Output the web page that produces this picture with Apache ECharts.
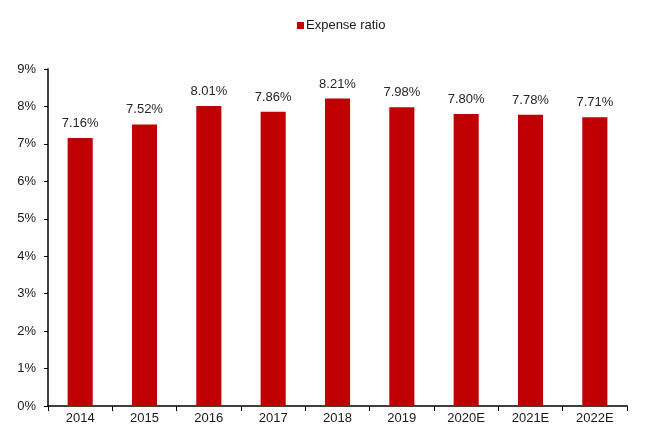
<!DOCTYPE html>
<html><head><meta charset="utf-8">
<script src="https://cdn.jsdelivr.net/npm/echarts@6/dist/echarts.min.js"></script>
<style>html,body{margin:0;padding:0;background:#fff}#c{width:672px;height:425px}</style>
</head><body><div id="c"></div>
<script>
var categories = ["2014","2015","2016","2017","2018","2019","2020E","2021E","2022E"];
var expenseRatio = [7.16,7.52,8.01,7.86,8.21,7.98,7.80,7.78,7.71];
var seriesName = "Expense ratio";
var chart = echarts.init(document.getElementById('c'));
var font = '"Liberation Sans", Arial, sans-serif';
chart.setOption({
  animation:false,
  legend:{top:19,left:297,itemWidth:7,itemHeight:7,itemGap:5,icon:'rect',padding:0,
    textStyle:{fontFamily:font,fontSize:13,color:'#1a1a1a',padding:[0,0,0,-3]},data:[seriesName]},
  grid:{left:48,right:45,top:69,bottom:19,containLabel:false},
  xAxis:{type:'category',data:categories,
    axisLine:{lineStyle:{color:'#000',width:1.5}},
    axisTick:{show:true,alignWithLabel:false,length:5,lineStyle:{color:'#000'}},
    axisLabel:{fontFamily:font,fontSize:13,color:'#1a1a1a',margin:6}},
  yAxis:{type:'value',min:0,max:9,interval:1,
    axisLine:{show:true,lineStyle:{color:'#000',width:1.5}},
    axisTick:{show:true,length:4,lineStyle:{color:'#000'}},
    splitLine:{show:false},
    axisLabel:{fontFamily:font,fontSize:13,color:'#1a1a1a',margin:12,formatter:function(v){return v+'%';}}},
  series:[{name:seriesName,type:'bar',data:expenseRatio,barWidth:'39%',
    itemStyle:{color:'#C00000'},
    label:{show:true,position:'top',distance:8,fontFamily:font,fontSize:13,color:'#262626',
      formatter:function(p){return p.value.toFixed(2)+'%';}}}]
});
</script></body></html>
